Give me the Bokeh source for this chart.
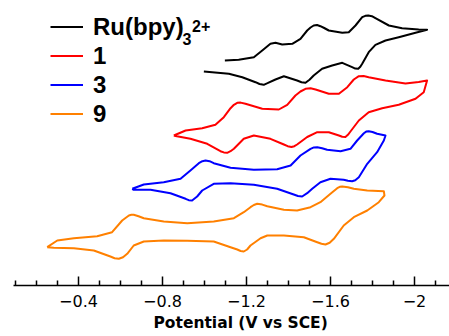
from bokeh.plotting import figure
from bokeh.models import (Range1d, FixedTicker, Legend, LegendItem, Title, Label,
                          CustomJSTickFormatter)
from bokeh.embed import file_html
from bokeh.resources import INLINE

# Cyclic voltammograms: potential (V vs SCE) and current (arb. units, offset)
# each list: forward (cathodic) sweep then return sweep
ru_v = [-1.097, -1.163, -1.235, -1.275, -1.314, -1.338, -1.370, -1.418, -1.457, -1.489,
        -1.505, -1.520, -1.536, -1.552, -1.570, -1.592, -1.656, -1.687, -1.719, -1.751,
        -1.766, -1.780, -1.797, -1.814, -1.878, -1.941, -2.020, -2.060,
        -2.005, -1.925, -1.862, -1.814, -1.782, -1.751, -1.742, -1.732, -1.718, -1.703,
        -1.656, -1.608, -1.560, -1.520, -1.500, -1.481, -1.462, -1.441, -1.378, -1.338,
        -1.300, -1.282, -1.262, -1.243, -1.180, -1.116, -0.997]
ru_i = [22.55, 22.62, 22.88, 23.55, 24.22, 24.32, 24.15, 24.22, 24.72, 25.55,
        25.85, 26.05, 26.10, 25.98, 25.80, 25.55, 25.32, 25.38, 26.05, 26.88,
        27.02, 27.05, 26.98, 26.78, 26.05, 25.78, 25.65, 25.62,
        25.32, 24.88, 24.55, 24.12, 23.38, 22.22, 21.92, 21.72, 21.74, 21.88,
        22.32, 22.05, 21.72, 21.05, 20.62, 20.32, 20.38, 20.55, 20.98, 20.65,
        20.28, 20.12, 20.20, 20.38, 20.88, 21.22, 21.45]

c1_v = [-0.854, -0.910, -0.989, -1.052, -1.092, -1.124, -1.140, -1.156, -1.172, -1.195,
        -1.275, -1.354, -1.394, -1.433, -1.457, -1.481, -1.505, -1.529, -1.592, -1.640,
        -1.680, -1.711, -1.735, -1.758, -1.782, -1.862, -1.957, -2.020, -2.060,
        -2.044, -2.005, -1.925, -1.846, -1.782, -1.735, -1.695, -1.683, -1.671, -1.656,
        -1.640, -1.592, -1.537, -1.489, -1.441, -1.428, -1.414, -1.396, -1.378, -1.314,
        -1.235, -1.187, -1.140, -1.124, -1.108, -1.092, -1.076, -1.013, -0.933, -0.862,
        -0.854]
c1_i = [15.05, 15.55, 15.78, 16.12, 16.88, 17.78, 18.12, 18.32, 18.34, 18.22,
        17.72, 17.65, 18.12, 19.05, 19.45, 19.72, 19.78, 19.65, 19.22, 19.22,
        19.88, 20.65, 20.98, 21.00, 20.88, 20.55, 20.25, 20.40, 20.55,
        19.38, 18.72, 18.12, 17.78, 17.38, 16.55, 15.45, 15.12, 14.90, 14.92,
        15.05, 15.38, 15.38, 14.90, 14.15, 13.98, 13.90, 13.98, 14.15, 14.72,
        15.05, 14.72, 13.72, 13.48, 13.32, 13.36, 13.48, 14.22, 14.72, 15.00,
        15.05]

c3_v = [-0.656, -0.711, -0.806, -0.886, -0.933, -0.973, -0.990, -1.005, -1.024, -1.044,
        -1.124, -1.235, -1.346, -1.410, -1.457, -1.505, -1.521, -1.537, -1.560, -1.584,
        -1.648, -1.695, -1.727, -1.759, -1.770, -1.782, -1.800, -1.822, -1.862,
        -1.854, -1.822, -1.775, -1.735, -1.718, -1.703, -1.683, -1.663, -1.600, -1.552,
        -1.513, -1.489, -1.465, -1.445, -1.425, -1.346, -1.235, -1.124, -1.044, -0.989,
        -0.965, -0.941, -0.925, -0.910, -0.838, -0.743, -0.663, -0.656]
c3_i = [9.72, 10.15, 10.38, 10.72, 11.55, 12.28, 12.48, 12.55, 12.48, 12.28,
        11.82, 11.62, 11.68, 12.05, 13.05, 13.72, 13.86, 13.88, 13.78, 13.62,
        13.48, 13.72, 14.55, 15.28, 15.44, 15.48, 15.40, 15.22, 15.05,
        14.55, 13.38, 12.22, 10.88, 10.58, 10.48, 10.52, 10.62, 10.72, 10.38,
        9.72, 9.28, 8.95, 9.00, 9.15, 9.72, 10.12, 10.28, 10.22, 9.55,
        8.95, 8.55, 8.58, 8.72, 9.28, 9.62, 9.62, 9.72]

c9_v = [-0.251, -0.299, -0.378, -0.489, -0.560, -0.608, -0.640, -0.652, -0.663, -0.686,
        -0.711, -0.806, -0.918, -1.044, -1.140, -1.187, -1.219, -1.235, -1.251, -1.275,
        -1.299, -1.378, -1.441, -1.505, -1.552, -1.600, -1.632, -1.644, -1.656, -1.683,
        -1.711, -1.775, -1.854,
        -1.857, -1.830, -1.775, -1.711, -1.663, -1.616, -1.596, -1.576, -1.557, -1.537,
        -1.473, -1.378, -1.299, -1.267, -1.219, -1.203, -1.187, -1.172, -1.156, -1.124,
        -1.044, -0.918, -0.806, -0.711, -0.663, -0.632, -0.612, -0.592, -0.572, -0.552,
        -0.473, -0.378, -0.282, -0.251]
c9_i = [3.88, 4.55, 4.78, 4.98, 5.38, 6.55, 7.05, 7.12, 7.12, 6.98,
        6.78, 6.45, 6.28, 6.45, 6.78, 7.38, 7.88, 8.10, 8.22, 8.14,
        7.98, 7.62, 7.55, 7.88, 8.38, 9.22, 9.78, 9.92, 9.95, 9.88,
        9.72, 9.55, 9.48,
        9.05, 8.38, 7.55, 6.88, 6.05, 4.72, 4.32, 4.15, 4.22, 4.38,
        4.88, 5.05, 5.05, 4.78, 4.05, 3.65, 3.45, 3.50, 3.65, 3.88,
        4.45, 4.52, 4.55, 4.45, 4.05, 3.22, 2.88, 2.72, 2.78, 2.95,
        3.55, 3.78, 3.82, 3.88]

series_labels = ["Ru(bpy)", "1", "3", "9"]
ru_subscript = "3"
ru_superscript = "2+"
series_colors = ["#000000", "#ff0000", "#0000ff", "#ff8000"]
major_ticks = [-0.4, -0.8, -1.2, -1.6, -2.0]
minor_ticks = [-0.1, -0.2, -0.3, -0.5, -0.6, -0.7, -0.9, -1.0, -1.1, -1.3, -1.4,
               -1.5, -1.7, -1.8, -1.9, -2.1]
x_title = "Potential (V vs SCE)"

p = figure(frame_width=436, frame_height=277,
           x_range=Range1d(-0.0905, -2.1667), y_range=Range1d(0.05, 27.75),
           output_backend="svg", toolbar_location=None, y_axis_location=None,
           min_border_left=13, min_border_right=0, min_border_top=8, min_border_bottom=0)
p.xgrid.visible = False
p.ygrid.visible = False
p.outline_line_color = None
p.background_fill_color = "white"
p.border_fill_color = "white"

renderers = []
for xs, ys, col in zip([ru_v, c1_v, c3_v, c9_v], [ru_i, c1_i, c3_i, c9_i], series_colors):
    r = p.line(xs, ys, line_color=col, line_width=2, line_join="round")
    renderers.append(r)

ax = p.xaxis[0]
ax.ticker = FixedTicker(ticks=major_ticks, minor_ticks=minor_ticks)
ax.formatter = CustomJSTickFormatter(code="return (tick < 0 ? '\\u2212' : '') + Math.abs(tick).toString();")
ax.axis_line_width = 1.5
ax.axis_line_color = "black"
ax.major_tick_in = 9
ax.major_tick_out = 0
ax.minor_tick_in = 5
ax.minor_tick_out = 0
ax.major_tick_line_width = 1.5
ax.minor_tick_line_width = 1.5
ax.major_tick_line_color = "black"
ax.minor_tick_line_color = "black"
ax.major_label_text_font = "DejaVu Sans"
ax.major_label_text_font_size = "16px"
ax.major_label_text_color = "black"
ax.major_label_standoff = 9

p.add_layout(Title(text=x_title, align="left", offset=140, standoff=4,
                   text_font="DejaVu Sans", text_font_size="15.5px",
                   text_font_style="bold", text_color="black"), "below")

legend = Legend(items=[LegendItem(label=l, renderers=[r]) for l, r in zip(series_labels, renderers)],
                location=(37, 157), padding=0, spacing=0, margin=0,
                border_line_color=None, background_fill_alpha=0,
                glyph_width=33, glyph_height=29, label_height=29, label_standoff=10,
                label_text_font="Liberation Sans", label_text_font_style="bold",
                label_text_font_size="24px", label_text_color="black")
p.add_layout(legend)

# subscript / superscript of the first legend entry (screen px from frame bottom-left)
for txt, sx, sy in [(ru_subscript, 169, 247), (ru_superscript, 178.5, 260)]:
    p.add_layout(Label(x=sx, y=sy, x_units="screen", y_units="screen", text=txt,
                       text_font="Liberation Sans", text_font_style="bold",
                       text_font_size="16px", text_color="black",
                       text_baseline="alphabetic", text_align="left"))

open("out.html", "w").write(file_html(p, INLINE))
